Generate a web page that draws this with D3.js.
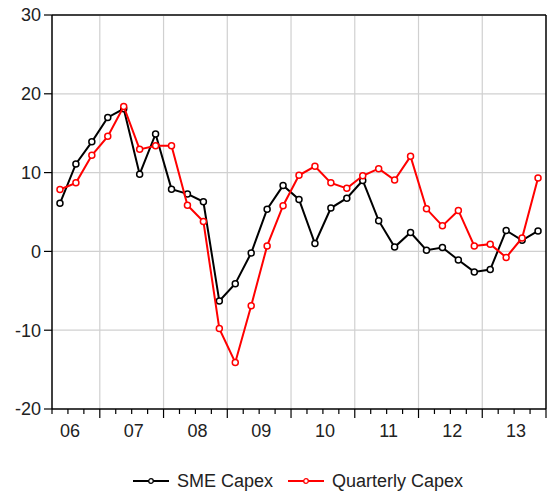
<!DOCTYPE html>
<html>
<head>
<meta charset="utf-8">
<script src="https://cdn.jsdelivr.net/npm/d3@7"></script>
<style>
  body { margin: 0; background: #fff; }
  svg text { font-family: "Liberation Sans", Arial, sans-serif; fill: #222; }
</style>
</head>
<body>
<div id="chart"></div>
<script>
// quarters 2006Q2 .. 2013Q4
var quarters = ["2006Q2", "2006Q3", "2006Q4",
  "2007Q1", "2007Q2", "2007Q3", "2007Q4",
  "2008Q1", "2008Q2", "2008Q3", "2008Q4",
  "2009Q1", "2009Q2", "2009Q3", "2009Q4",
  "2010Q1", "2010Q2", "2010Q3", "2010Q4",
  "2011Q1", "2011Q2", "2011Q3", "2011Q4",
  "2012Q1", "2012Q2", "2012Q3", "2012Q4",
  "2013Q1", "2013Q2", "2013Q3", "2013Q4"];

var smeCapex = [6.1, 11.1, 13.9,
  17.0, 18.1, 9.8, 14.9,
  7.9, 7.3, 6.3, -6.3,
  -4.1, -0.2, 5.35, 8.35,
  6.6, 1.0, 5.5, 6.75,
  9.0, 3.9, 0.55, 2.4,
  0.16, 0.5, -1.1, -2.6,
  -2.3, 2.66, 1.4, 2.6];

var quarterlyCapex = [7.85, 8.7, 12.2,
  14.6, 18.4, 12.95, 13.4,
  13.4, 5.86, 3.8, -9.8,
  -14.1, -6.9, 0.7, 5.8,
  9.66, 10.8, 8.7, 8.0,
  9.6, 10.5, 9.06, 12.06,
  5.4, 3.24, 5.2, 0.7,
  0.92, -0.76, 1.7, 9.3];

var yTicks = [-20, -10, 0, 10, 20, 30];
var yearLabels = ["06", "07", "08", "09", "10", "11", "12", "13"];
var seriesNames = ["SME Capex", "Quarterly Capex"];
var seriesColors = ["#000000", "#ff0000"];

var width = 548,
  height = 493,
  plotLeft = 52,
  plotRight = 546,
  plotTop = 15,
  plotBottom = 409;

var svg = d3.select("#chart")
  .append("svg")
  .attr("width", width)
  .attr("height", height);

// quarter index: 0 = 2006Q1 start, plot starts at 2006Q2
function qIndex(q) {
  return (+q.slice(0, 4) - 2006) * 4 + (+q.slice(5) - 1);
}

var x = d3.scaleLinear()
  .domain([1, 32])
  .range([plotLeft, plotRight]);

var y = d3.scaleLinear()
  .domain([-20, 30])
  .range([plotBottom, plotTop]);

// grid
svg.selectAll(".hgrid")
  .data(yTicks.filter(function(d) { return d > -20 && d < 30; }))
  .enter()
  .append("line")
  .attr("x1", plotLeft)
  .attr("x2", plotRight)
  .attr("y1", function(d) { return y(d); })
  .attr("y2", function(d) { return y(d); })
  .attr("stroke", "#d0d0d0")
  .attr("stroke-width", 1.2);

svg.selectAll(".vgrid")
  .data(d3.range(1, yearLabels.length))
  .enter()
  .append("line")
  .attr("x1", function(d) { return x(d * 4); })
  .attr("x2", function(d) { return x(d * 4); })
  .attr("y1", plotTop)
  .attr("y2", plotBottom)
  .attr("stroke", "#d0d0d0")
  .attr("stroke-width", 1.2);

// y axis ticks + labels
svg.selectAll(".ytick")
  .data(yTicks)
  .enter()
  .append("line")
  .attr("x1", plotLeft - 8)
  .attr("x2", plotLeft)
  .attr("y1", function(d) { return y(d); })
  .attr("y2", function(d) { return y(d); })
  .attr("stroke", "#000")
  .attr("stroke-width", 1.2);

svg.selectAll(".ylab")
  .data(yTicks)
  .enter()
  .append("text")
  .attr("x", plotLeft - 11)
  .attr("y", function(d) { return y(d); })
  .attr("dy", "0.36em")
  .attr("text-anchor", "end")
  .style("font-size", "18px")
  .text(function(d) { return d; });

// x axis ticks: quarters small, years long
svg.selectAll(".xtick")
  .data(d3.range(1, 33))
  .enter()
  .append("line")
  .attr("x1", function(d) { return x(d); })
  .attr("x2", function(d) { return x(d); })
  .attr("y1", plotBottom)
  .attr("y2", function(d) { return d % 4 === 0 ? plotBottom + 9 : plotBottom + 5; })
  .attr("stroke", "#000")
  .attr("stroke-width", 1.2);

svg.selectAll(".xlab")
  .data(yearLabels)
  .enter()
  .append("text")
  .attr("x", function(d, i) { return x(i * 4 + 2) + 2; })
  .attr("y", 437)
  .attr("text-anchor", "middle")
  .style("font-size", "18px")
  .text(function(d) { return d; });

// frame
svg.append("line")
  .attr("x1", plotLeft).attr("x2", plotRight)
  .attr("y1", plotTop).attr("y2", plotTop)
  .attr("stroke", "#404040").attr("stroke-width", 2);
svg.append("line")
  .attr("x1", plotLeft).attr("x2", plotRight)
  .attr("y1", plotBottom).attr("y2", plotBottom)
  .attr("stroke", "#000").attr("stroke-width", 1.5);
svg.append("line")
  .attr("x1", plotLeft).attr("x2", plotLeft)
  .attr("y1", plotTop).attr("y2", plotBottom)
  .attr("stroke", "#000").attr("stroke-width", 1.5);
svg.append("line")
  .attr("x1", plotRight).attr("x2", plotRight)
  .attr("y1", plotTop).attr("y2", plotBottom)
  .attr("stroke", "#000").attr("stroke-width", 1.5);

// series
var line = d3.line()
  .x(function(d) { return x(qIndex(d.q) + 0.5); })
  .y(function(d) { return y(d.v); });

[smeCapex, quarterlyCapex].forEach(function(values, s) {
  var data = values.map(function(v, i) { return { q: quarters[i], v: v }; });

  svg.append("path")
    .datum(data)
    .attr("d", line)
    .attr("fill", "none")
    .attr("stroke", seriesColors[s])
    .attr("stroke-width", 2);

  svg.selectAll(".pt" + s)
    .data(data)
    .enter()
    .append("circle")
    .attr("cx", function(d) { return x(qIndex(d.q) + 0.5); })
    .attr("cy", function(d) { return y(d.v); })
    .attr("r", 3)
    .attr("fill", "#fff")
    .attr("stroke", seriesColors[s])
    .attr("stroke-width", 1.5);
});

// legend
var legendX = [133, 288];
var legend = svg.selectAll(".legend")
  .data(seriesNames)
  .enter()
  .append("g")
  .attr("transform", function(d, i) { return "translate(" + legendX[i] + ",481)"; });

legend.append("line")
  .attr("x1", 0)
  .attr("x2", 36)
  .attr("stroke", function(d, i) { return seriesColors[i]; })
  .attr("stroke-width", 2);

legend.append("circle")
  .attr("cx", 18)
  .attr("r", 2.3)
  .attr("fill", "#fff")
  .attr("stroke", function(d, i) { return seriesColors[i]; })
  .attr("stroke-width", 1.3);

legend.append("text")
  .attr("x", 44)
  .attr("dy", "0.36em")
  .style("font-size", "18px")
  .text(function(d) { return d; });
</script>
</body>
</html>
